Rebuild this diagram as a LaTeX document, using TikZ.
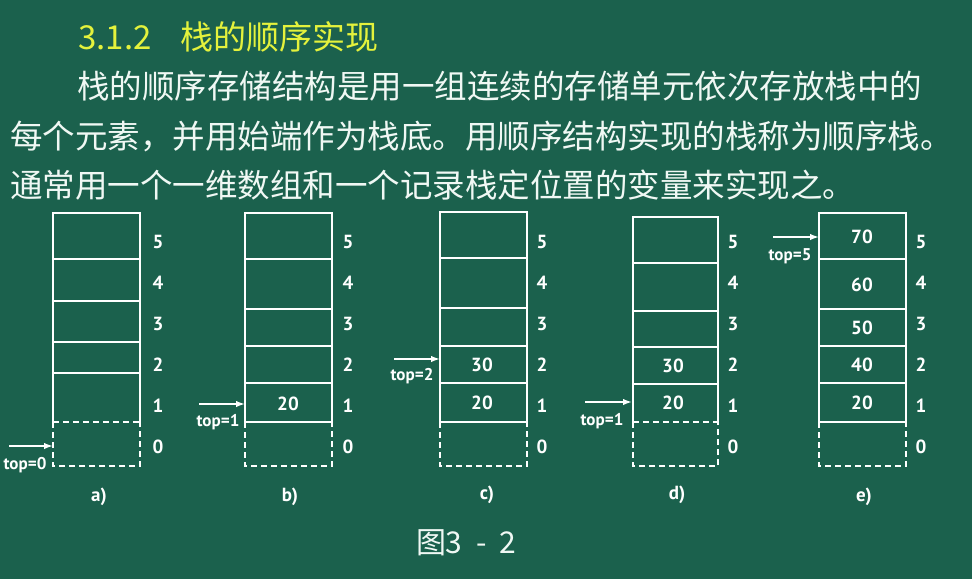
\documentclass[tikz,border=0pt]{standalone}
\usepackage{fontspec}
\setmainfont{Noto Sans CJK SC}
\newfontfamily\lblfont{PT Sans}[BoldFont={PT Sans Bold}]
\usetikzlibrary{arrows.meta}
\definecolor{bg}{RGB}{27,97,77}
\definecolor{ttl}{RGB}{228,242,60}
\definecolor{txt}{RGB}{240,248,244}
\tikzset{
  cell/.style={draw=white, line width=1.9pt},
  dashcell/.style={draw=white, line width=1.9pt, dash pattern=on 6pt off 4pt},
  idx/.style={font=\lblfont\bfseries\fontsize{19}{19}\selectfont, text=white, inner sep=0pt},
  val/.style={font=\lblfont\bfseries\fontsize{19}{19}\selectfont, text=white, inner sep=0pt},
  toplbl/.style={font=\lblfont\bfseries\fontsize{17}{17}\selectfont, text=white, inner sep=0pt},
  ptr/.style={draw=white, line width=1.7pt, -{Latex[length=9pt,width=6.5pt]}},
  body/.style={font=\fontsize{32.5}{40}\selectfont, text=txt, inner sep=0pt, anchor=base west},
  ttlstyle/.style={font=\fontsize{33}{40}\selectfont, text=ttl, inner sep=0pt, anchor=base west},
  capstyle/.style={font=\fontsize{30}{36}\selectfont, text=txt, inner sep=0pt, anchor=base west}
}
\begin{document}
\begin{tikzpicture}[x=1pt,y=-1pt]
\fill[bg] (0,0) rectangle (972,579);
\useasboundingbox (0,0) rectangle (972,579);

% heading and text
\node[ttlstyle] (num) at (78,49) {3.1.2};
\node[ttlstyle] (title) at (180,49) {栈的顺序实现};
\node[body] (l1) at (77,98) {栈的顺序存储结构是用一组连续的存储单元依次存放栈中的};
\node[body] (l2) at (10,148) {每个元素，并用始端作为栈底。用顺序结构实现的栈称为顺序栈。};
\node[body] (l3) at (10,197) {通常用一个一维数组和一个记录栈定位置的变量来实现之。};

% ---------- stack a ----------
\draw[cell] (53,422) -- (53,213) -- (140,213) -- (140,422);
\foreach \y in {259,301,342,373} \draw[cell] (53,\y) -- (140,\y);
\draw[dashcell] (53,422) -- (140,422);
\draw[dashcell] (53,422) -- (53,466) -- (140,466) -- (140,422);
\coordinate (aS) at (9,446); \coordinate (aE) at (53,446);
\draw[ptr] (aS) -- (aE);
\node[toplbl] (aT) at (25,465) {top=0};
\node[idx] (aC) at (99,497) {a)};

% ---------- stack b ----------
\draw[cell] (245,213) rectangle (332,422);
\foreach \y in {259,309,346,383} \draw[cell] (245,\y) -- (332,\y);
\draw[dashcell] (245,422) -- (245,466) -- (332,466) -- (332,422);
\node[val] (b1) at (288,404) {20};
\coordinate (bS) at (199,404); \coordinate (bE) at (245,404);
\draw[ptr] (bS) -- (bE);
\node[toplbl] (bT) at (218,422) {top=1};
\node[idx] (bC) at (290,497) {b)};

% ---------- stack c ----------
\draw[cell] (440,212) rectangle (527,422);
\foreach \y in {258,308,346,383} \draw[cell] (440,\y) -- (527,\y);
\draw[dashcell] (440,422) -- (440,466) -- (527,466) -- (527,422);
\node[val] (c2) at (482,365) {30};
\node[val] (c1) at (482,403) {20};
\coordinate (cS) at (394,359); \coordinate (cE) at (440,359);
\draw[ptr] (cS) -- (cE);
\node[toplbl] (cT) at (412,376) {top=2};
\node[idx] (cC) at (487,495) {c)};

% ---------- stack d ----------
\draw[cell] (633,422) -- (633,217) -- (718,217) -- (718,422);
\foreach \y in {263,311,347,384} \draw[cell] (633,\y) -- (718,\y);
\draw[dashcell] (633,422) -- (718,422);
\draw[dashcell] (633,422) -- (633,466) -- (718,466) -- (718,422);
\node[val] (d2) at (673,366) {30};
\node[val] (d1) at (673,403) {20};
\coordinate (dS) at (585,402); \coordinate (dE) at (632,402);
\draw[ptr] (dS) -- (dE);
\node[toplbl] (dT) at (602,421) {top=1};
\node[idx] (dC) at (677,495) {d)};

% ---------- stack e ----------
\draw[cell] (819,213) rectangle (906,422);
\foreach \y in {259,309,346,383} \draw[cell] (819,\y) -- (906,\y);
\draw[dashcell] (819,422) -- (819,466) -- (906,466) -- (906,422);
\node[val] (e5) at (862,237) {70};
\node[val] (e4) at (862,285) {60};
\node[val] (e3) at (862,328) {50};
\node[val] (e2) at (862,365) {40};
\node[val] (e1) at (862,403) {20};
\coordinate (eS) at (773,237); \coordinate (eE) at (819,237);
\draw[ptr] (eS) -- (eE);
\node[toplbl] (eT) at (790,256) {top=5};
\node[idx] (eC) at (864,497) {e)};

% index labels
\foreach \nm/\x in {a/158,b/348,c/542,d/733,e/921}{
  \foreach \i/\y in {5/242,4/283,3/324,2/365,1/406,0/447}
    \node[idx] (\nm i\i) at (\x,\y) {\i};
}

% caption
\node[capstyle] (capA) at (416,553) {图};
\node[capstyle] (capB) at (445,553) {3};
\node[capstyle] (capC) at (476,553) {-};
\node[capstyle] (capD) at (499,553) {2};
\end{tikzpicture}
\end{document}
